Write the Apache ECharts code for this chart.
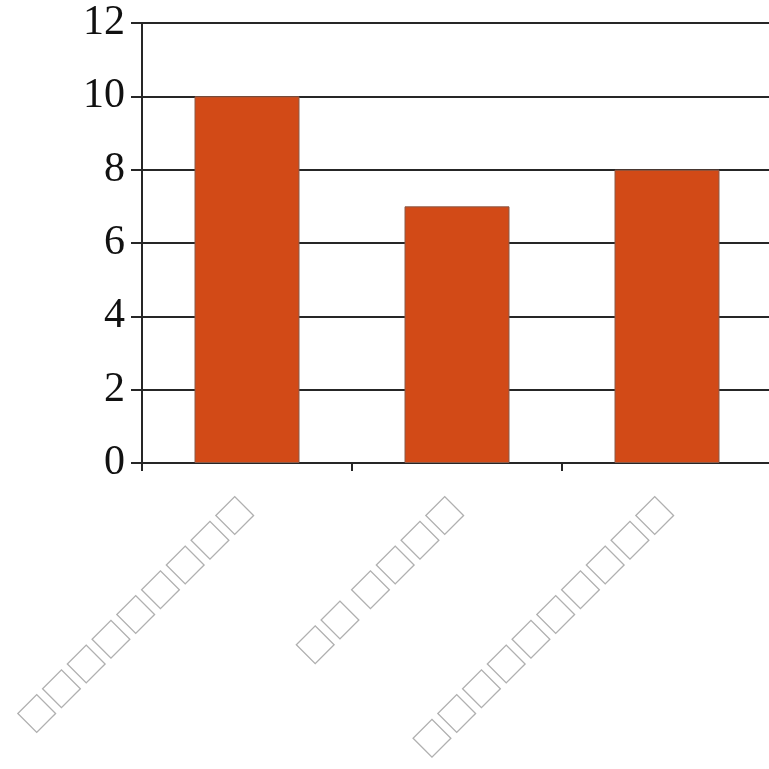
<!DOCTYPE html>
<html>
<head>
<meta charset="utf-8">
<script src="https://cdn.jsdelivr.net/npm/echarts@6/dist/echarts.min.js"></script>
<style>
  html, body { margin: 0; padding: 0; background: #fff; }
  #chart { width: 769px; height: 769px; }
</style>
</head>
<body>
<div id="chart"></div>
<script>
// labels show as missing-glyph boxes in the source picture
const categories = ['□□□□□□□□□', '□□ □□□□', '□□□□□□□□□□'];
const values = [10, 7, 8];
const yTicks = [0, 2, 4, 6, 8, 10, 12];

const chart = echarts.init(document.getElementById('chart'));

const option = {
  animation: false,
  grid: { left: 142, top: 23, right: -3, bottom: 306, containLabel: false, outerBoundsMode: 'none' },
  xAxis: {
    type: 'category',
    data: categories,
    axisLine: { lineStyle: { color: '#262626', width: 2 } },
    axisTick: { show: true, length: 8, lineStyle: { color: '#262626', width: 2 } },
    axisLabel: {
      rotate: 45,
      margin: 40,
      fontFamily: 'Noto Sans CJK SC',
      fontSize: 35,
      color: '#b0b0b0'
    }
  },
  yAxis: {
    type: 'value',
    min: yTicks[0],
    max: yTicks[yTicks.length - 1],
    interval: 2,
    axisLine: { show: true, lineStyle: { color: '#262626', width: 2 } },
    axisTick: { show: true, length: 11, lineStyle: { color: '#262626', width: 2 } },
    axisLabel: {
      margin: 17,
      fontFamily: 'Liberation Serif',
      fontSize: 42,
      color: '#111'
    },
    splitLine: { lineStyle: { color: '#262626', width: 2 } }
  },
  series: [{
    type: 'bar',
    data: values,
    barWidth: '50%',
    itemStyle: { color: '#d24a17', borderColor: '#8a5a48', borderWidth: 1 }
  }]
};

chart.setOption(option);
</script>
</body>
</html>
